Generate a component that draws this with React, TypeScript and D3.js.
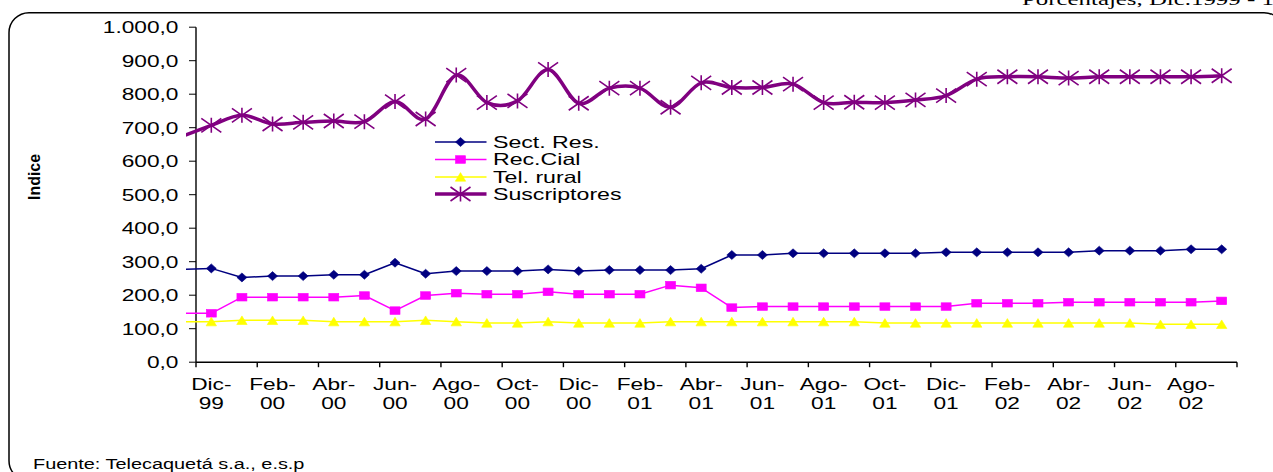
import React from "react";
import * as d3 from "d3";

const months = [
  "Nov-99", "Dic-99",
  "Ene-00", "Feb-00", "Mar-00", "Abr-00", "May-00", "Jun-00", "Jul-00", "Ago-00", "Sep-00", "Oct-00", "Nov-00", "Dic-00",
  "Ene-01", "Feb-01", "Mar-01", "Abr-01", "May-01", "Jun-01", "Jul-01", "Ago-01", "Sep-01", "Oct-01", "Nov-01", "Dic-01",
  "Ene-02", "Feb-02", "Mar-02", "Abr-02", "May-02", "Jun-02", "Jul-02", "Ago-02", "Sep-02",
];

// first value (Nov-99) lies left of the plot and is only seen as a clipped line stub
const sectRes = [277, 280, 253, 257, 257, 261, 261, 297, 264, 272, 272, 272, 277, 272, 275, 275, 275, 279, 320, 320, 325, 325, 325, 325, 325, 328, 328, 328, 328, 328, 333, 333, 333, 337, 337];
const recCial = [146, 146, 194, 194, 194, 194, 199, 154, 199, 206, 203, 203, 210, 203, 203, 203, 230, 222, 163, 166, 166, 166, 166, 166, 166, 166, 176, 176, 176, 179, 179, 179, 179, 179, 183];
const telRural = [121, 121, 125, 125, 125, 121, 121, 121, 125, 121, 117, 117, 121, 117, 117, 117, 121, 121, 121, 121, 121, 121, 121, 117, 117, 117, 117, 117, 117, 117, 117, 117, 113, 113, 113];
const suscriptores = [672, 707, 737, 711, 716, 720, 718, 778, 726, 857, 775, 780, 874, 773, 818, 818, 761, 834, 820, 820, 830, 775, 776, 775, 783, 796, 845, 852, 852, 848, 852, 852, 852, 852, 855];

const seriesNames = ["Sect. Res.", "Rec.Cial", "Tel. rural", "Suscriptores"];
const yTicks = [0, 100, 200, 300, 400, 500, 600, 700, 800, 900, 1000];

const SX = 1.42; // horizontal stretch of the original picture
const FONT = "'Liberation Sans', Arial, sans-serif";

const x = d3.scaleLinear().domain([1, 35]).range([196, 1237]);
const y = d3.scaleLinear().domain([0, 1000]).range([362.2, 27.2]);
const locale = d3.formatLocale({ decimal: ",", thousands: ".", grouping: [3], currency: ["", ""] });
const fmt = locale.format(",.1f");

type Kind = "diamond" | "square" | "triangle" | "star";

const series: { name: string; values: number[]; color: string; width: number; kind: Kind; smooth: boolean }[] = [
  { name: seriesNames[0], values: sectRes, color: "#000080", width: 1.5, kind: "diamond", smooth: false },
  { name: seriesNames[1], values: recCial, color: "#FF00FF", width: 1.5, kind: "square", smooth: false },
  { name: seriesNames[2], values: telRural, color: "#FFFF00", width: 1.5, kind: "triangle", smooth: false },
  { name: seriesNames[3], values: suscriptores, color: "#800080", width: 3.5, kind: "star", smooth: true },
];

function Marker({ kind, cx, cy, color }: { kind: Kind; cx: number; cy: number; color: string }) {
  if (kind === "diamond") {
    return <path d={`M${cx - 5},${cy}L${cx},${cy - 4.5}L${cx + 5},${cy}L${cx},${cy + 4.5}Z`} fill={color} stroke={color} strokeWidth={0.6} />;
  }
  if (kind === "square") {
    return <rect x={cx - 5} y={cy - 3.8} width={10} height={7.6} fill={color} stroke={color} strokeWidth={0.6} />;
  }
  if (kind === "triangle") {
    return <path d={`M${cx - 5.2},${cy + 4.2}L${cx},${cy - 4.4}L${cx + 5.2},${cy + 4.2}Z`} fill={color} stroke={color} strokeWidth={0.6} />;
  }
  return (
    <path
      d={`M${cx - 10},${cy - 7}L${cx + 10},${cy + 7}M${cx - 10},${cy + 7}L${cx + 10},${cy - 7}M${cx},${cy - 7.5}L${cx},${cy + 7.5}`}
      stroke={color}
      strokeWidth={1.6}
      fill="none"
    />
  );
}

function SText({ tx, ty, anchor = "start", size = 16, family = FONT, weight = "normal", children }: any) {
  return (
    <text
      transform={`translate(${tx},${ty}) scale(${SX},1)`}
      textAnchor={anchor}
      fontSize={size}
      fontFamily={family}
      fontWeight={weight}
      fill="#000"
    >
      {children}
    </text>
  );
}

export default function App() {
  const xTickIdx = d3.range(1, 36, 2);
  const labelIdx = d3.range(1, 34, 2);
  const legendY = [142, 159.5, 177, 194];

  return (
    <svg width={1273} height={472} style={{ position: "absolute", left: 0, top: 0, background: "#fff" }}>
      <defs>
        <clipPath id="plotClip">
          <rect x={186} y={0} width={1100} height={472} />
        </clipPath>
      </defs>
      <rect x={0} y={0} width={1273} height={472} fill="#fff" />

      {/* page header, cut off by the top edge */}
      <SText tx={1022} ty={5} size={17.5} family="'Liberation Serif', 'Times New Roman', serif">
        Porcentajes, Dic.1999 - 1
      </SText>

      {/* rounded frame */}
      <rect x={9} y={12.7} width={1275} height={468} rx={20} ry={20} fill="none" stroke="#000" strokeWidth={1.5} />

      {/* y axis */}
      <line x1={196} x2={196} y1={y(1000)} y2={y(0)} stroke="#000" strokeWidth={1.4} />
      {yTicks.map((t) => (
        <g key={t}>
          <line x1={189} x2={196} y1={y(t)} y2={y(t)} stroke="#000" strokeWidth={1} />
          <SText tx={178.5} ty={y(t) + 5.8} anchor="end" size={16}>
            {fmt(t)}
          </SText>
        </g>
      ))}

      {/* x axis */}
      <line x1={196} x2={1237} y1={y(0)} y2={y(0)} stroke="#000" strokeWidth={1.5} />
      {xTickIdx.map((i) => (
        <line key={i} x1={x(i)} x2={x(i)} y1={y(0)} y2={y(0) + 5} stroke="#000" strokeWidth={1.4} />
      ))}
      {labelIdx.map((i) => {
        const [m, yr] = months[i].split("-");
        return (
          <g key={i}>
            <SText tx={x(i + 0.5)} ty={390} anchor="middle" size={16}>
              {m + "-"}
            </SText>
            <SText tx={x(i + 0.5)} ty={409} anchor="middle" size={16}>
              {yr}
            </SText>
          </g>
        );
      })}

      {/* axis title */}
      <text
        transform={`translate(39.5,177) scale(${SX},1) rotate(-90)`}
        textAnchor="middle"
        fontSize={11}
        fontWeight="bold"
        fontFamily={FONT}
        textLength={46}
        lengthAdjust="spacingAndGlyphs"
      >
        Indice
      </text>

      {/* series */}
      <g clipPath="url(#plotClip)">
        {series.map((s) => {
          const line = d3
            .line<number>()
            .x((_, i) => x(i + 0.5))
            .y((d) => y(d))
            .curve(s.smooth ? d3.curveCatmullRom.alpha(0) : d3.curveLinear);
          return (
            <path key={s.name} d={line(s.values) || ""} fill="none" stroke={s.color} strokeWidth={s.width} strokeLinejoin="round" />
          );
        })}
      </g>
      {series.map((s) => (
        <g key={s.name + "m"}>
          {s.values.map((v, i) =>
            i === 0 ? null : <Marker key={i} kind={s.kind} cx={x(i + 0.5)} cy={y(v)} color={s.color} />
          )}
        </g>
      ))}

      {/* legend */}
      {series.map((s, k) => (
        <g key={s.name + "l"}>
          <line x1={435} x2={486.5} y1={legendY[k]} y2={legendY[k]} stroke={s.color} strokeWidth={s.width} />
          <Marker kind={s.kind} cx={460.5} cy={legendY[k]} color={s.color} />
          <SText tx={493} ty={legendY[k] + 5.5} size={16.3}>
            {s.name}
          </SText>
        </g>
      ))}

      {/* source */}
      <SText tx={33} ty={469} size={14}>
        Fuente: Telecaquetá s.a., e.s.p
      </SText>
    </svg>
  );
}
